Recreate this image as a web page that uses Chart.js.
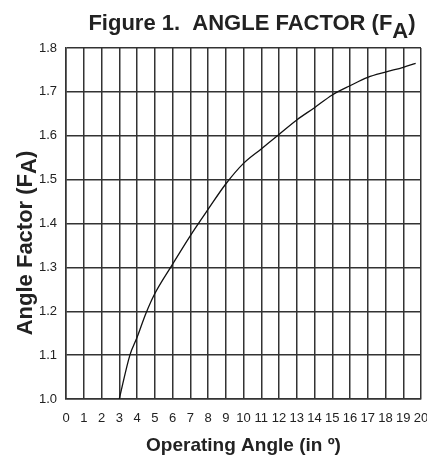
<!DOCTYPE html>
<html>
<head>
<meta charset="utf-8">
<title>Figure 1. Angle Factor</title>
<script src="https://cdn.jsdelivr.net/npm/chart.js@4/dist/chart.umd.min.js"></script>
<style>
  html, body { margin: 0; padding: 0; background: #fff; }
</style>
</head>
<body>
<canvas id="chart" width="427" height="460"></canvas>
<script>
// values
const angles  = [3, 3.6, 4, 4.5, 5, 6, 7, 8, 9, 10, 11, 12, 13, 14, 15, 16, 17, 18, 19, 19.7];
const factors = [1.0, 1.1, 1.14, 1.195, 1.24, 1.307, 1.372, 1.432, 1.49, 1.537, 1.57, 1.603, 1.636, 1.664, 1.693, 1.714, 1.733, 1.745, 1.756, 1.765];

const xTicks = [0, 1, 2, 3, 4, 5, 6, 7, 8, 9, 10, 11, 12, 13, 14, 15, 16, 17, 18, 19, 20];
const yTicks = [1.0, 1.1, 1.2, 1.3, 1.4, 1.5, 1.6, 1.7, 1.8];

const titleParts = ['Figure 1.  ANGLE FACTOR (F', 'A', ')'];
const yTitleParts = ['Angle Factor (F', 'A', ')'];
const xTitle = 'Operating Angle (in º)';

const FONT = '"Liberation Sans", Arial, Helvetica, sans-serif';
const INK = '#222';

// draws text with a lowered "A" subscript, centred on cx at baseline y
function drawSubText(ctx, parts, cx, y, size, drop) {
  ctx.font = 'bold ' + size + 'px ' + FONT;
  const w = parts.map(p => ctx.measureText(p).width);
  let x = cx - (w[0] + w[1] + w[2]) / 2;
  ctx.textAlign = 'left';
  ctx.textBaseline = 'alphabetic';
  ctx.fillText(parts[0], x, y);
  x += w[0];
  ctx.fillText(parts[1], x, y + drop);
  x += w[1];
  ctx.fillText(parts[2], x, y);
}

const labelsPlugin = {
  id: 'subTitles',
  afterDraw(chart) {
    const ctx = chart.ctx;
    ctx.save();
    ctx.fillStyle = INK;
    drawSubText(ctx, titleParts, 252, 30, 22, 8);

    // rotated y title, baseline sits at x = 32
    ctx.translate(32, 243);
    ctx.rotate(-Math.PI / 2);
    drawSubText(ctx, yTitleParts, 0, 0, 22, 4);
    ctx.restore();
  }
};

const gridStyle = {
  color: '#333',
  lineWidth: 1.5,
  drawTicks: false
};

new Chart(document.getElementById('chart'), {
  type: 'scatter',
  data: {
    datasets: [{
      data: angles.map((a, i) => ({ x: a, y: factors[i] })),
      showLine: true,
      borderColor: '#111',
      borderWidth: 1.3,
      pointRadius: 0,
      cubicInterpolationMode: 'monotone'
    }]
  },
  options: {
    responsive: false,
    animation: false,
    layout: { padding: { top: 48, right: 6, left: 0, bottom: 0 } },
    plugins: {
      legend: { display: false },
      tooltip: { enabled: false }
    },
    scales: {
      x: {
        type: 'linear',
        min: 0,
        max: 20,
        grid: gridStyle,
        border: { color: '#333', width: 1.5 },
        afterBuildTicks: s => { s.ticks = xTicks.map(v => ({ value: v })); },
        afterFit: s => {
          s.height = 61;
          // let the "20" label run off the edge like the original
          s.paddingLeft = 0;
          s.paddingRight = 0;
        },
        ticks: {
          padding: 12,
          maxRotation: 0,
          autoSkip: false,
          color: INK,
          font: { family: FONT, size: 13 }
        },
        title: {
          display: true,
          text: xTitle,
          color: INK,
          padding: { top: 4, bottom: 3 },
          font: { family: FONT, size: 19, weight: 'bold' }
        }
      },
      y: {
        min: 1.0,
        max: 1.8,
        grid: gridStyle,
        border: { color: '#333', width: 1.5 },
        afterBuildTicks: s => { s.ticks = yTicks.map(v => ({ value: v })); },
        afterFit: s => { s.width = 66; },
        ticks: {
          padding: 9,
          color: INK,
          font: { family: FONT, size: 13 },
          callback: v => v.toFixed(1)
        }
      }
    }
  },
  plugins: [labelsPlugin]
});
</script>
</body>
</html>
